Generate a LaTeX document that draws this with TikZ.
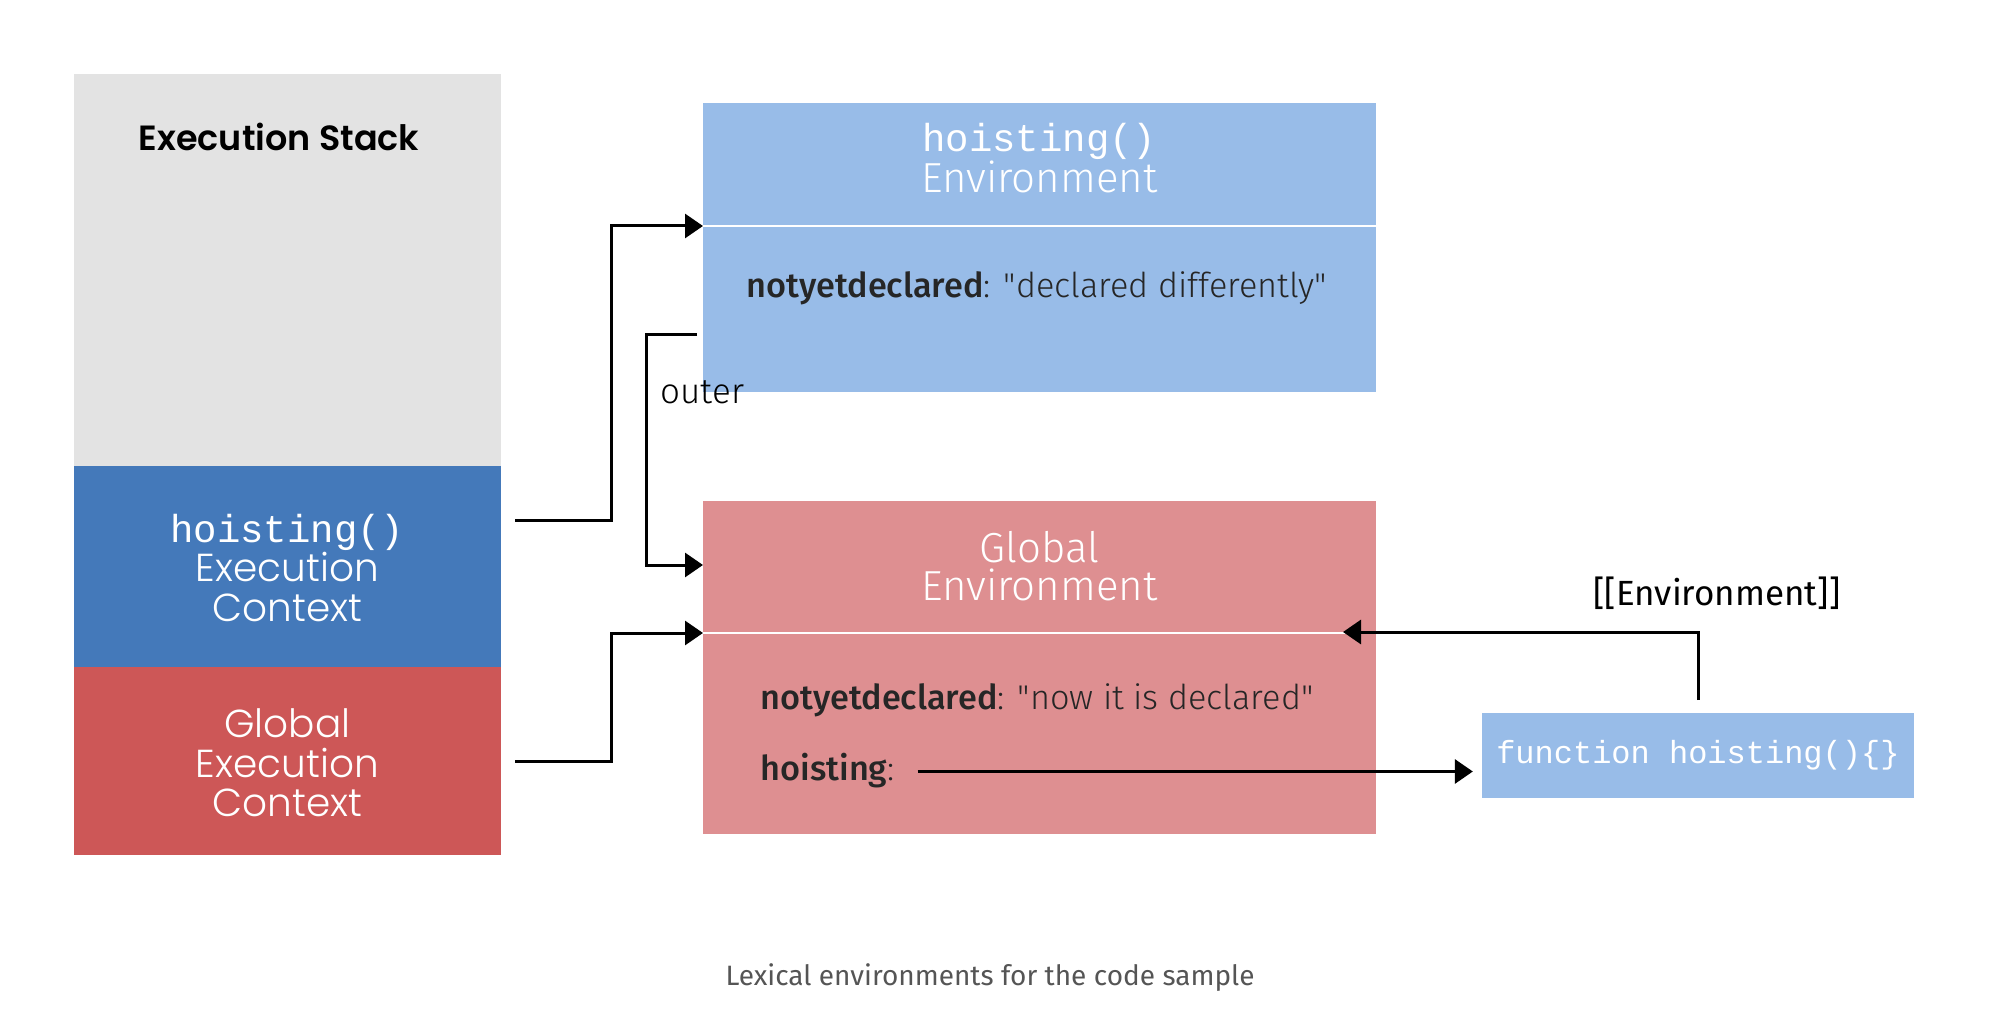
\documentclass[tikz,border=0pt]{standalone}
\usepackage{fontspec}
\setmainfont{Fira Sans}
\newfontfamily\lightfont{Fira Sans}[UprightFont=* Light, BoldFont=* Medium]
\newfontfamily\stackfont{Poppins}[UprightFont=* Light, BoldFont=* SemiBold]
\newfontfamily\codefont{Liberation Mono}
\usetikzlibrary{arrows.meta, calc}
\usepackage{xcolor}
\definecolor{stackgray}{HTML}{E3E3E3}
\definecolor{ctxblue}{HTML}{4479BA}
\definecolor{ctxred}{HTML}{CD5757}
\definecolor{envblue}{HTML}{98BCE8}
\definecolor{envred}{HTML}{DE8F91}
\definecolor{captiongray}{HTML}{555555}

\tikzset{
  box/.style={draw=none, inner sep=0pt, minimum width=#1},
  ctxtext/.style={text=white, align=center, font=\stackfont\fontsize{39}{39.5}\selectfont},
  envtitle/.style={text=white, align=center, font=\lightfont\fontsize{42}{38}\selectfont},
  envline/.style={anchor=west, text=black!85, font=\lightfont\fontsize{34.3}{36}\selectfont},
  link/.style={line width=3pt, -{Triangle[length=18pt, width=24pt]}},
}

\begin{document}
\begin{tikzpicture}[x=1pt, y=-1pt]
  \useasboundingbox (0,0) rectangle (1990,1016);
  % execution stack
  \node[box=427.4pt, fill=stackgray, minimum height=392.4pt] (stack) at (287.3,269.8) {};
  \node[box=427.4pt, fill=ctxblue, minimum height=201pt] (hctx) at (287.3,566.5) {};
  \node[box=427.4pt, fill=ctxred, minimum height=188pt] (gctx) at (287.3,761) {};
  \node[font=\stackfont\bfseries\fontsize{35}{38}\selectfont] (stacktitle) at (279,137) {Execution Stack};
  \node[ctxtext] (hctxtext) at (287.3,568) {{\codefont hoisting()}\\Execution\\Context};
  \node[ctxtext] (gctxtext) at (287.3,763) {Global\\Execution\\Context};

  % environments
  \node[box=672.6pt, fill=envblue, minimum height=289.2pt] (henv) at (1039.3,247.4) {};
  \node[box=672.6pt, fill=envred, minimum height=333pt] (genv) at (1039.3,667.5) {};
  \coordinate (hdiv) at (703,226);
  \coordinate (gdiv) at (703,633);
  \draw[white, line width=1.5pt] (hdiv) -- (1375.6,226);
  \draw[white, line width=1.5pt] (gdiv) -- (1375.6,633);
  \node[envtitle] (henvtitle) at (1039.3,158) {{\codefont\fontsize{39}{38}\selectfont hoisting()}\\Environment};
  \node[envtitle] (genvtitle) at (1039.3,566.5) {Global\\Environment};
  \node[envline] (hvar) at (743,288) {\textbf{notyetdeclared}: \textquotedbl declared differently\textquotedbl};
  \node[envline] (gvar) at (757,700) {\textbf{notyetdeclared}: \textquotedbl now it is declared\textquotedbl};
  \node[envline] (gfun) at (757,771) {\textbf{hoisting}:};

  % function object
  \node[box=431.7pt, fill=envblue, minimum height=85pt, text=white,
        font=\codefont\fontsize{32}{34}\selectfont] (fbox) at (1697.9,755.5) {function hoisting()\{\}};
  \node[font=\fontsize{35}{38}\selectfont] (envslot) at (1717,593) {[[Environment]]};

  % connectors
  \coordinate (hctxout) at (515,520);
  \coordinate (gctxout) at (515,761);
  \coordinate (outerout) at (697,335);
  \coordinate (outerin) at (703,565);
  \coordinate (funtop) at (1698,700);
  \coordinate (envslotin) at (1343,632);
  \coordinate (funref) at (917.5,771.5);
  \draw[link] (hctxout) -- (611.6,520) |- (hdiv);
  \draw[link] (gctxout) -- (611.6,761) |- (gdiv);
  \draw[link] (outerout) -- (646,335) |- (outerin);
  \node[anchor=west, font=\lightfont\fontsize{35}{38}\selectfont] (outer) at (657,392) {outer};
  \draw[link] (funtop) |- (envslotin);
  \draw[link, shorten >=9pt] (funref) -- (funref -| fbox.west);

  \node[text=captiongray, font=\fontsize{28}{30}\selectfont] (caption) at (990,978) {Lexical environments for the code sample};
\end{tikzpicture}
\end{document}
